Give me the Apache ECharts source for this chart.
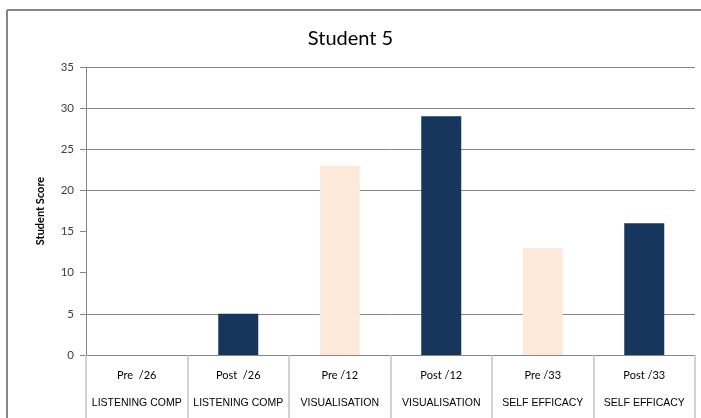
<!DOCTYPE html>
<html>
<head>
<meta charset="utf-8">
<script src="https://cdn.jsdelivr.net/npm/echarts@6/dist/echarts.min.js"></script>
<style>
  html, body { margin: 0; padding: 0; background: #fff; }
  #main { width: 701px; height: 418px; }
</style>
</head>
<body>
<div id="main"></div>
<script>
// chart data
var testLabels = ['Pre  /26', 'Post  /26', 'Pre /12', 'Post /12', 'Pre /33', 'Post /33'];
var domainLabels = ['LISTENING COMP', 'LISTENING COMP', 'VISUALISATION', 'VISUALISATION', 'SELF EFFICACY', 'SELF EFFICACY'];
var scores = [0, 5, 23, 29, 13, 16];
var barColors = ['#fde9d9', '#17365d', '#fde9d9', '#17365d', '#fde9d9', '#17365d'];
// gridlines visible in the original (10 and 15 are not drawn there)
var gridValues = [5, 20, 25, 30, 35];

document.addEventListener('DOMContentLoaded', function() {
    var myChart = echarts.init(document.getElementById('main'));

    var option = {
        backgroundColor: '#fff',
        animation: false,
        title: {
            text: 'Student 5',
            left: 'center',
            top: 24,
            textStyle: { fontFamily: 'Lato', fontSize: 20, fontWeight: 'normal', color: '#000' }
        },
        grid: { left: 86, right: 6, top: 67, bottom: 63 },
        xAxis: {
            type: 'category',
            data: testLabels,
            axisLine: { lineStyle: { color: '#868686', width: 1 } },
            axisTick: { show: true, length: 70, lineStyle: { color: '#c4c4c4', width: 1.5 } },
            axisLabel: {
                margin: 6,
                interval: 0,
                formatter: function(value, idx) {
                    return '{a|' + value + '}\n{b|' + domainLabels[idx] + '}';
                },
                rich: {
                    a: { fontFamily: 'Lato', fontSize: 11, color: '#000', lineHeight: 28 },
                    b: { fontFamily: 'Liberation Sans', fontSize: 10.5, color: '#000', lineHeight: 28 }
                }
            }
        },
        yAxis: {
            type: 'value',
            min: 0,
            max: 35,
            interval: 5,
            name: 'Student Score',
            nameLocation: 'middle',
            nameGap: 40,
            nameRotate: 90,
            nameTextStyle: { fontFamily: 'Lato', fontSize: 11, fontWeight: 'bold', color: '#000' },
            axisLine: { show: true, lineStyle: { color: '#868686' } },
            axisTick: { show: true, length: 6, lineStyle: { color: '#868686' } },
            axisLabel: { fontFamily: 'Lato', fontSize: 11.5, color: '#404040', margin: 12 },
            splitLine: { show: false }
        },
        series: [{
            name: 'Score',
            type: 'bar',
            barWidth: 40,
            data: scores.map(function(v, i) {
                return { value: v, itemStyle: { color: barColors[i] } };
            }),
            markLine: {
                z: 1,
                silent: true,
                symbol: ['none', 'none'],
                label: { show: false },
                lineStyle: { color: '#868686', type: 'solid', width: 1 },
                data: gridValues.map(function(v) { return { yAxis: v }; })
            }
        }],
        graphic: [
            { type: 'line', shape: { x1: 7, y1: 10, x2: 701, y2: 10 }, style: { stroke: '#868686', lineWidth: 2 } },
            { type: 'line', shape: { x1: 7, y1: 10, x2: 7, y2: 418 }, style: { stroke: '#868686', lineWidth: 2 } }
        ]
    };

    myChart.setOption(option);
});
</script>
</body>
</html>
